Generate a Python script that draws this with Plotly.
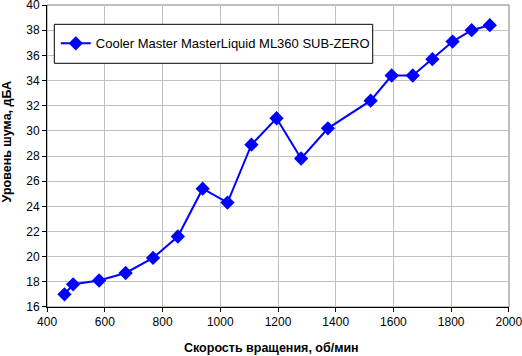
import plotly.graph_objects as go

rpm = [460, 490, 580, 672, 767, 853, 939, 1025, 1108, 1195, 1280, 1373, 1521, 1594, 1667, 1735, 1805, 1871, 1934]
noise = [17.0, 17.8, 18.1, 18.7, 19.9, 21.6, 25.4, 24.3, 28.9, 31.0, 27.8, 30.2, 32.4, 34.4, 34.4, 35.7, 37.1, 38.0, 38.4]
x_ticks = [400, 600, 800, 1000, 1200, 1400, 1600, 1800, 2000]
y_ticks = [16, 18, 20, 22, 24, 26, 28, 30, 32, 34, 36, 38, 40]
series_name = "Cooler Master MasterLiquid ML360 SUB-ZERO"
x_title = "Скорость вращения, об/мин"
y_title = "Уровень шума, дБА"

fig = go.Figure()
fig.add_trace(go.Scatter(
    x=rpm, y=noise, mode="lines+markers", name=series_name,
    line=dict(color="#0000FF", width=2),
    marker=dict(symbol="diamond", size=11, color="#0000FF"),
))

fig.update_layout(
    width=522, height=356,
    margin=dict(l=47, r=13, t=5, b=49),
    paper_bgcolor="white", plot_bgcolor="white",
    font=dict(family="Liberation Sans, Arial, sans-serif", size=12, color="black"),
    showlegend=True,
    legend=dict(x=0.019, y=0.873, xanchor="left", yanchor="middle",
                borderwidth=0, bgcolor="rgba(0,0,0,0)",
                font=dict(size=13)),
    xaxis=dict(range=[399.5, 2000.5], tickvals=x_ticks, ticktext=[str(v) for v in x_ticks],
               showgrid=True, gridcolor="#C0C0C0", automargin=False,
               ticklabeloverflow="allow",
               showline=True, linecolor="black", mirror=False, ticks="outside",
               ticklen=4, tickcolor="black", zeroline=False),
    yaxis=dict(range=[15.995, 40.005], tickvals=y_ticks, ticktext=[str(v) for v in y_ticks],
               showgrid=True, gridcolor="#C0C0C0", automargin=False,
               ticklabeloverflow="allow",
               showline=True, linecolor="black", ticks="outside",
               ticklen=4, tickcolor="black", zeroline=False),
)
fig.add_annotation(text="<b>" + x_title + "</b>", xref="paper", yref="paper",
                   x=0.485, y=-0.137, xanchor="center", yanchor="middle",
                   showarrow=False, font=dict(size=12.5))
fig.add_annotation(text="<b>" + y_title + "</b>", xref="paper", yref="paper",
                   x=-0.086, y=0.546, xanchor="center", yanchor="middle", textangle=-90,
                   showarrow=False, font=dict(size=12.5))
fig.add_shape(type="rect", xref="paper", yref="paper", x0=0, y0=0, x1=1, y1=1,
              line=dict(color="#808080", width=1), layer="below")
# legend frame
fig.add_shape(type="rect", xref="paper", yref="paper", x0=0.0158, y0=0.807, x1=0.705, y1=0.936,
              line=dict(color="black", width=1), fillcolor="white", layer="above")

fig.write_html("out.html", config={"displayModeBar": False},
               post_script="document.body.style.margin='0';document.body.style.overflow='hidden';")
